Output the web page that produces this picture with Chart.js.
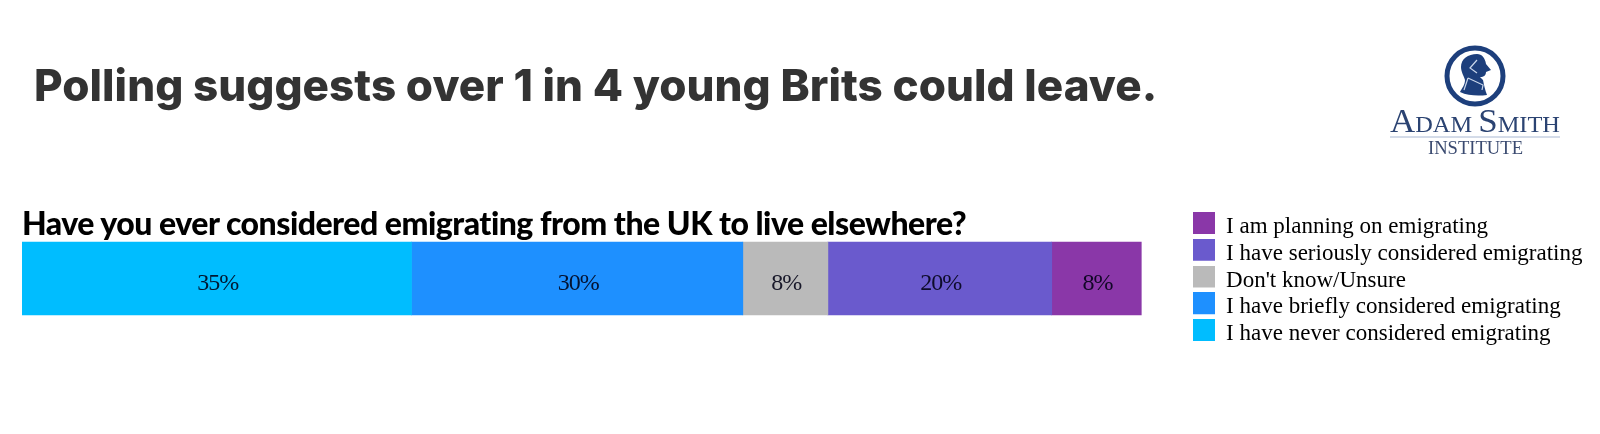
<!DOCTYPE html>
<html>
<head>
<meta charset="utf-8">
<title>Polling suggests over 1 in 4 young Brits could leave.</title>
<script src="https://cdn.jsdelivr.net/npm/chart.js@4"></script>
<style>
html, body { margin: 0; padding: 0; background: #fff; }
#wrap { position: relative; width: 1600px; height: 434px; overflow: hidden; }
#chart { position: absolute; left: 0; top: 0; }
#headline { position: absolute; left: 34px; top: 58px; margin: 0; white-space: nowrap;
  font: 800 44px Inter, sans-serif; color: #333; letter-spacing: 0.05px; }
#question { position: absolute; left: 22px; top: 203px; margin: 0; white-space: nowrap;
  font: 900 32px Lato, sans-serif; color: #000; letter-spacing: -0.5px; }
#logo { position: absolute; left: 1380px; top: 40px; }
</style>
</head>
<body>
<div id="wrap">
  <canvas id="chart" width="1600" height="434"></canvas>
  <h1 id="headline">Polling suggests over 1 in 4 young Brits could leave.</h1>
  <h2 id="question">Have you ever considered emigrating from the UK to live elsewhere?</h2>
  <svg id="logo" width="190" height="125" viewBox="0 0 190 125">
    <circle cx="95" cy="36" r="28" fill="#fff" stroke="#1d3f7c" stroke-width="5"/>
    <path d="M97 14 C88 14 81 19 81 27 C81 32 84 36 85 40 C85 45 82 48 80 52 C88 56 99 56 107 55 C105 50 104 45 103 40 L100 37 C104 37 106 35 106 32 L111 30 L106 24 C105 18 102 14 97 14 Z" fill="#1d3f7c"/>
    <path d="M97 20 L90 28 L97 33 M88 38 L103 45 L102 50 M88 38 L84 50" fill="none" stroke="#c9d6ea" stroke-width="1.2"/>
    <text x="10" y="92" textLength="170" lengthAdjust="spacingAndGlyphs" fill="#2b4372" font-family="Liberation Serif" font-size="23"><tspan font-size="33">A</tspan>DAM <tspan font-size="33">S</tspan>MITH</text>
    <line x1="10" y1="97" x2="180" y2="97" stroke="#a9b8d2" stroke-width="1"/>
    <text x="48" y="114" textLength="95" lengthAdjust="spacingAndGlyphs" fill="#3a4a70" font-family="Liberation Serif" font-size="18">INSTITUTE</text>
  </svg>
</div>
<script>
const categories = ['Have you ever considered emigrating from the UK to live elsewhere?'];
const seriesNames = [
  'I have never considered emigrating',
  'I have briefly considered emigrating',
  "Don't know/Unsure",
  'I have seriously considered emigrating',
  'I am planning on emigrating'
];
const seriesValues = [34.8, 29.6, 7.6, 20, 8];
const seriesColors = ['#00bdff', '#1e90ff', '#bababa', '#6a5acd', '#8a37a8'];

// legend swatch sits a little above the text line, so draw it on a taller canvas
function swatch(color) {
  const c = document.createElement('canvas');
  c.width = 22;
  c.height = 30;
  const g = c.getContext('2d');
  g.fillStyle = color;
  g.fillRect(0, 0, 22, 22);
  return c;
}

// percent text in the middle of each bar
const barLabels = {
  id: 'barLabels',
  afterLayout(chart) {
    chart.legend.top += 2;
    chart.legend.bottom += 2;
  },
  afterDatasetsDraw(chart) {
    const ctx = chart.ctx;
    ctx.save();
    ctx.font = '24px "Liberation Serif"';
    ctx.letterSpacing = '-1px';
    ctx.fillStyle = 'rgba(0,0,20,0.88)';
    ctx.textAlign = 'center';
    ctx.textBaseline = 'middle';
    chart.data.datasets.forEach((ds, i) => {
      const bar = chart.getDatasetMeta(i).data[0];
      const c = bar.getCenterPoint();
      ctx.fillText(Math.round(ds.data[0]) + '%', c.x + 1, c.y + 5);
    });
    ctx.restore();
  }
};

new Chart(document.getElementById('chart'), {
  type: 'bar',
  data: {
    labels: categories,
    datasets: seriesNames.map((name, i) => ({
      label: name,
      data: [seriesValues[i]],
      backgroundColor: seriesColors[i],
      barThickness: 73
    }))
  },
  options: {
    indexAxis: 'y',
    responsive: false,
    animation: false,
    layout: { padding: { left: 22, top: 205, bottom: 82, right: 7.5 } },
    scales: {
      x: { stacked: true, display: false, min: 0, max: 104.25 },
      y: { stacked: true, display: false }
    },
    plugins: {
      tooltip: { enabled: false },
      legend: {
        position: 'right',
        reverse: true,
        labels: {
          usePointStyle: true,
          pointStyleWidth: 22,
          boxHeight: 22,
          padding: 3.75,
          color: '#000',
          font: { family: 'Liberation Serif', size: 23 },
          generateLabels(chart) {
            return Chart.defaults.plugins.legend.labels.generateLabels(chart).map(item => {
              item.pointStyle = swatch(seriesColors[item.datasetIndex]);
              return item;
            });
          }
        }
      }
    }
  },
  plugins: [barLabels]
});
</script>
</body>
</html>
